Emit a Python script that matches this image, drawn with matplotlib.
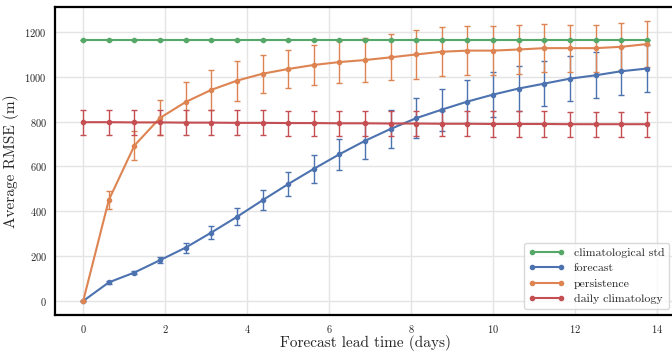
import numpy as np
import matplotlib
matplotlib.use("Agg")
import matplotlib.pyplot as plt
from matplotlib.lines import Line2D
import seaborn as sns

sns.set_theme(style="whitegrid")
plt.rcParams['font.family'] = 'serif'
plt.rcParams['font.serif'] = ['cmr10', 'DejaVu Serif']
plt.rcParams['mathtext.fontset'] = 'cm'
plt.rcParams['axes.formatter.use_mathtext'] = True

lead_days = [i * 0.625 for i in range(23)]

clim_std = [1165] * 23
clim_std_err = [0] * 23

forecast = [0, 83, 127, 182, 238, 305, 375, 449, 521, 589, 654, 714, 767, 815,
            853, 889, 920, 947, 969, 991, 1006, 1024, 1036]
forecast_err = [0, 8, 8, 13, 22, 30, 38, 44, 52, 62, 70, 79, 84, 90,
                94, 96, 100, 100, 100, 100, 103, 106, 104]

persistence = [0, 450, 693, 816, 887, 941, 982, 1013, 1034, 1052, 1065, 1074, 1086, 1099,
               1111, 1116, 1116, 1121, 1127, 1127, 1127, 1133, 1145]
persistence_err = [0, 42, 63, 78, 89, 90, 89, 84, 84, 90, 93, 97, 103, 108,
                   110, 110, 110, 110, 108, 105, 105, 105, 103]

daily_clim = [797, 797, 796, 796, 795, 795, 794, 794, 793, 793, 792, 792, 791, 791,
              790, 790, 789, 789, 789, 788, 788, 788, 788]
daily_clim_err = [56] * 23

series = [
    ("climatological std", clim_std, clim_std_err, "#55A868"),
    ("forecast", forecast, forecast_err, "#4C72B0"),
    ("persistence", persistence, persistence_err, "#DD8452"),
    ("daily climatology", daily_clim, daily_clim_err, "#C44E52"),
]

fig = plt.figure(figsize=(6.72, 3.51), dpi=100)
ax = fig.add_axes([55/672, 36/351, 620/672, 308/351])

handles = []
for name, vals, err, col in series:
    ax.errorbar(lead_days, vals, yerr=err, color=col, marker='o', markersize=3,
                linewidth=1.5, elinewidth=1.0, capsize=2.5, capthick=1.0)
    handles.append(Line2D([0], [0], color=col, marker='o', markersize=3,
                          linewidth=1.5, label=name))

ax.set_xticks(range(0, 15, 2))
ax.set_yticks(range(0, 1201, 200))
ax.tick_params(labelsize=7.5, pad=6, length=0)
ax.set_xlabel("Forecast lead time (days)", fontsize=11, labelpad=0)
ax.set_ylabel("Average RMSE (m)", fontsize=11, labelpad=4)
ax.grid(True, color="#e4e4e4", linewidth=1.0)
for s in ["left", "bottom", "top", "right"]:
    ax.spines[s].set_color("black")
    ax.spines[s].set_linewidth(1.6)

leg = ax.legend(handles=handles, loc="lower right", fontsize=8.5, frameon=True,
                fancybox=True, handlelength=3.0, numpoints=2, borderaxespad=0.5,
                labelspacing=0.45)
leg.get_frame().set_edgecolor("#d0d0d0")

fig.savefig("out.png", dpi=100)
